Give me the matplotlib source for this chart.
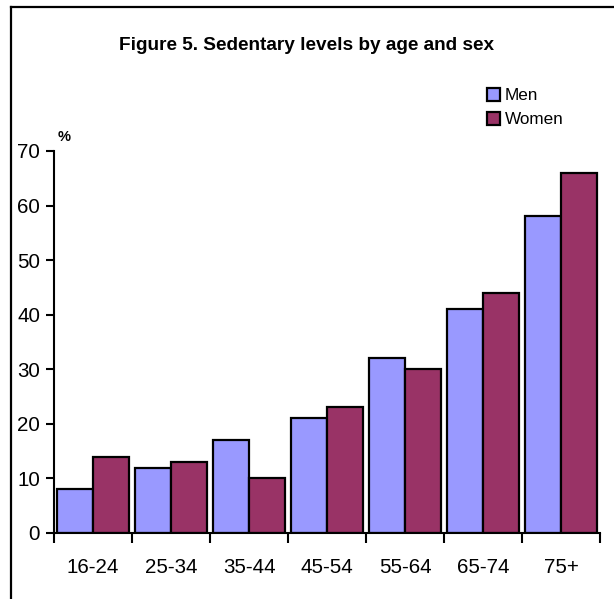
import numpy as np
import matplotlib.pyplot as plt
from matplotlib.lines import Line2D
from matplotlib.patches import Patch

plt.rcParams['font.family'] = ['Liberation Sans', 'DejaVu Sans']

# data
age_groups = ['16-24', '25-34', '35-44', '45-54', '55-64', '65-74', '75+']
men = [8, 12, 17, 21, 32, 41, 58]
women = [14, 13, 10, 23, 30, 44, 66]
yticks = [0, 10, 20, 30, 40, 50, 60, 70]

men_color = '#9999FF'
women_color = '#993366'

W, H = 614, 599
fig = plt.figure(figsize=(W / 100, H / 100), dpi=100)
ax = fig.add_axes([54 / W, 1 - 533 / H, (600 - 54) / W, (533 - 151) / H])

x = np.arange(len(age_groups))
bw = 0.46
ax.bar(x - bw / 2, men, bw, color=men_color, edgecolor='black', linewidth=1.6, label='Men')
ax.bar(x + bw / 2, women, bw, color=women_color, edgecolor='black', linewidth=1.6, label='Women')

ax.set_xlim(-0.5, len(age_groups) - 0.5)
ax.set_ylim(0, 70)
ax.set_yticks(yticks)
ax.set_yticklabels([str(v) for v in yticks], fontsize=14.8)

# ticks at category boundaries, labels at centres
ax.set_xticks(np.arange(-0.5, len(age_groups), 1.0))
ax.set_xticklabels([])
ax.set_xticks(x, minor=True)
ax.set_xticklabels(age_groups, minor=True, fontsize=14.8)
ax.tick_params(axis='x', which='major', direction='out', length=7, width=1.5)
ax.tick_params(axis='x', which='minor', length=0, pad=18)
ax.tick_params(axis='y', direction='out', length=6, width=1.5, pad=4)

for s in ['top', 'right']:
    ax.spines[s].set_visible(False)
for s in ['left', 'bottom']:
    ax.spines[s].set_linewidth(1.5)

fig.text(64 / W, 1 - 137 / H, '%', fontsize=10.5, fontweight='bold', ha='center', va='center')
fig.text(0.5, 1 - 45 / H, 'Figure 5. Sedentary levels by age and sex',
         fontsize=13.7, fontweight='bold', ha='center', va='center')

handles = [Patch(facecolor=men_color, edgecolor='black', linewidth=1.6, label='Men'),
           Patch(facecolor=women_color, edgecolor='black', linewidth=1.6, label='Women')]
fig.legend(handles=handles, loc='upper left', bbox_to_anchor=(478 / W, 1 - 79 / H),
           frameon=False, fontsize=12.3, handlelength=0.8, handleheight=0.8,
           handletextpad=0.25, labelspacing=0.5, borderpad=0)

# outer frame (only top and left edges are visible)
fig.add_artist(Line2D([11 / W, 11 / W], [0, 1 - 7 / H], transform=fig.transFigure,
                      color='black', linewidth=1.6))
fig.add_artist(Line2D([11 / W, 1], [1 - 7 / H, 1 - 7 / H], transform=fig.transFigure,
                      color='black', linewidth=1.6))

fig.savefig('out.png', dpi=100)
